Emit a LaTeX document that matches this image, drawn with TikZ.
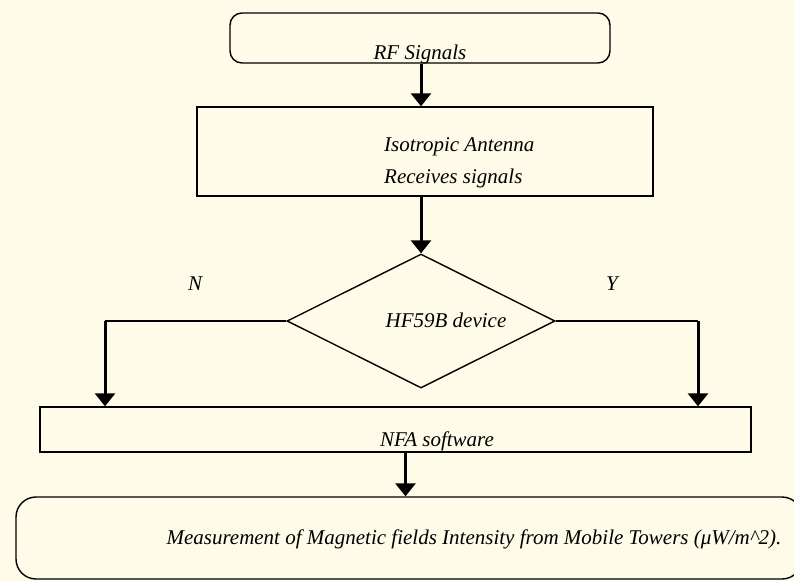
\documentclass[tikz,border=0pt]{standalone}
\usepackage{fontspec}
\setmainfont{Liberation Serif}
\usetikzlibrary{arrows.meta,shapes.geometric}
\definecolor{paper}{HTML}{FEFBE9}
\tikzset{
  box/.style={draw, line width=1.4pt, inner sep=0pt},
  termbox/.style={box, rounded corners=12pt},
  endbox/.style={box, rounded corners=20pt},
  decbox/.style={box, diamond},
  flow/.style={line width=3pt, -{Triangle[width=20pt,length=13pt]}},
  branch/.style={line width=1.4pt},
  txt/.style={font=\itshape\fontsize{21}{32}\selectfont, inner sep=0pt, anchor=base},
}
\begin{document}
\begin{tikzpicture}[x=1pt,y=-1pt]
\fill[paper] (0,0) rectangle (794,581);
\useasboundingbox (0,0) rectangle (794,581);
% shapes
\node[termbox, minimum width=380pt, minimum height=50pt] (rf) at (420,38) {};
\node[box, minimum width=456pt, minimum height=89pt] (ant) at (425,151.5) {};
\node[decbox, minimum width=268pt, minimum height=134pt] (dev) at (421,321) {};
\node[box, minimum width=711pt, minimum height=45pt] (nfa) at (395.5,429.5) {};
\node[endbox, minimum width=786pt, minimum height=82pt] (res) at (409,538) {};
% texts
\node[txt] (rftext) at (420,59) {RF Signals};
\node[txt, align=left, anchor=north west] (anttext) at (384,137) {Isotropic Antenna\\Receives signals};
\node[txt] (devtext) at (446,327) {HF59B device};
\node[txt] (ntext) at (195,290) {N};
\node[txt] (ytext) at (612,290) {Y};
\node[txt] (nfatext) at (437,446) {NFA software};
\node[txt] (restext) at (474,544) {Measurement of Magnetic fields Intensity from Mobile Towers (μW/m\^{}2).};
% connectors
\coordinate (nturn) at (105,321);
\coordinate (yturn) at (698,321);
\draw[flow] (rf.south -| dev.north) -- (dev.north |- ant.north);
\draw[flow] (ant.south -| dev.north) -- (dev.north);
\draw[branch] (dev.west) -- (nturn);
\draw[branch] (dev.east) -- (yturn);
\draw[flow] (nturn) -- (nturn |- nfa.north);
\draw[flow] (yturn) -- (yturn |- nfa.north);
\draw[flow] ([xshift=10pt]nfa.south) -- ([xshift=10pt]nfa.south |- res.north);
\end{tikzpicture}
\end{document}
